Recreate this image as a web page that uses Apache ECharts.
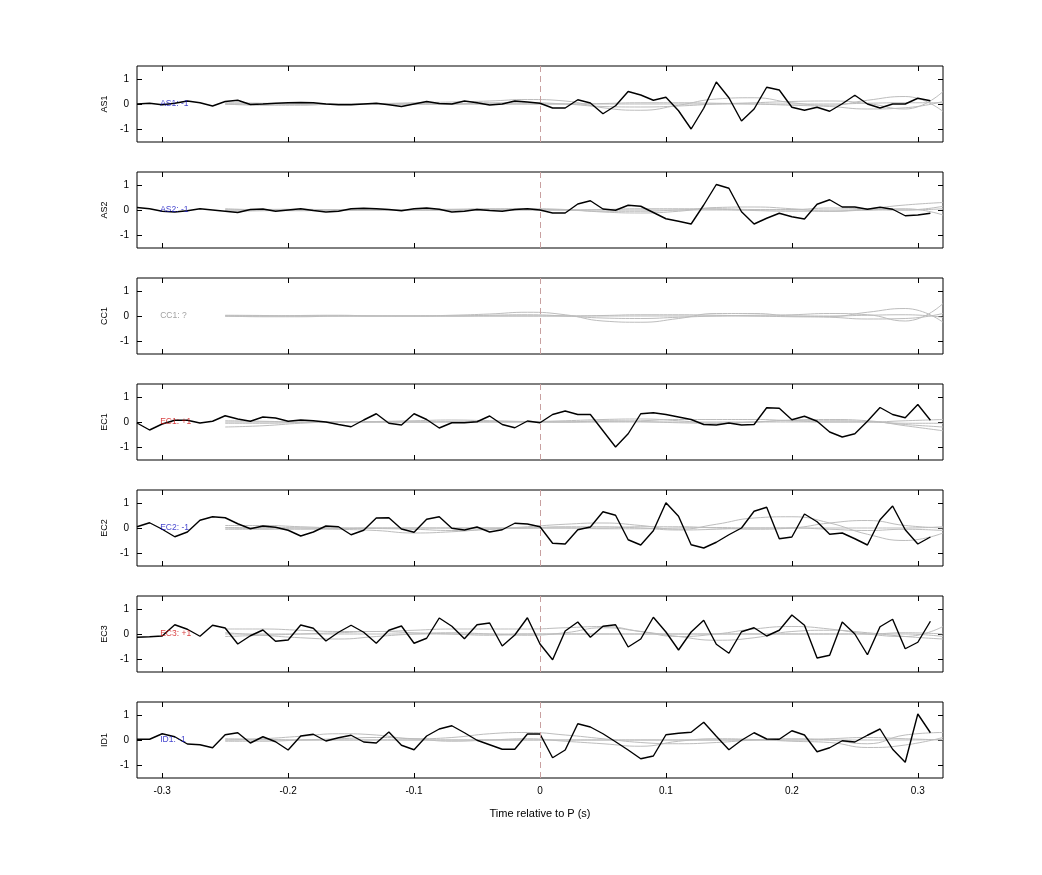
<!DOCTYPE html>
<html><head><meta charset="utf-8">
<script src="https://cdn.jsdelivr.net/npm/echarts@6/dist/echarts.min.js"></script>
<style>html,body{margin:0;padding:0;background:#fff}#c{width:1042px;height:875px}</style>
</head><body><div id="c"></div>
<script>
const stations = ['AS1','AS2','CC1','EC1','EC2','EC3','ID1'];
const labelText = ['AS1: -1','AS2: -1','CC1: ?','EC1: +1','EC2: -1','EC3: +1','ID1: -1'];
const labelColor = ['#1010c0','#1010c0','#888888','#d01010','#1010c0','#d01010','#1010c0'];
const xTicks = [-0.3,-0.2,-0.1,0,0.1,0.2,0.3];
const yTicks = [-1,0,1];
// black traces: time step 0.01 from -0.32 to 0.31
const tBlack = [-0.32,-0.31,-0.3,-0.29,-0.28,-0.27,-0.26,-0.25,-0.24,-0.23,-0.22,-0.21,-0.2,-0.19,-0.18,-0.17,-0.16,-0.15,-0.14,-0.13,-0.12,-0.11,-0.1,-0.09,-0.08,-0.07,-0.06,-0.05,-0.04,-0.03,-0.02,-0.01,0,0.01,0.02,0.03,0.04,0.05,0.06,0.07,0.08,0.09,0.1,0.11,0.12,0.13,0.14,0.15,0.16,0.17,0.18,0.19,0.2,0.21,0.22,0.23,0.24,0.25,0.26,0.27,0.28,0.29,0.3,0.31];
const AS1 = [0,0.03,-0.03,0.03,0.12,0.05,-0.08,0.1,0.15,-0.02,0,0.03,0.05,0.06,0.05,0,-0.03,-0.03,0,0.03,-0.03,-0.1,0,0.1,0.02,0,0.12,0.05,-0.04,0,0.12,0.08,0.03,-0.16,-0.16,0.17,0.04,-0.39,-0.07,0.5,0.36,0.15,0.27,-0.27,-1.0,-0.17,0.88,0.25,-0.68,-0.2,0.67,0.56,-0.13,-0.25,-0.13,-0.29,0.01,0.35,0,-0.16,0,0,0.23,0.13];
const AS2 = [0.1,0.05,-0.05,-0.08,-0.03,0.05,0,-0.05,-0.1,0.02,0.04,-0.05,0,0.05,-0.02,-0.08,-0.05,0.05,0.07,0.05,0.02,-0.03,0.05,0.08,0.03,-0.08,-0.05,0.02,-0.02,-0.05,0.02,0.05,0,-0.12,-0.12,0.24,0.37,0.04,-0.01,0.19,0.15,-0.1,-0.35,-0.45,-0.56,0.2,1.02,0.87,-0.07,-0.56,-0.33,-0.13,-0.27,-0.36,0.23,0.41,0.12,0.12,0.03,0.11,0.03,-0.23,-0.2,-0.13];
const CC1 = [];
const EC1 = [-0.04,-0.32,-0.08,0.07,0.07,-0.04,0.03,0.25,0.12,0.03,0.2,0.16,0.03,0.08,0.05,0,-0.1,-0.19,0.08,0.33,-0.05,-0.12,0.33,0.1,-0.24,-0.03,-0.03,0.01,0.24,-0.1,-0.23,0.04,-0.03,0.3,0.44,0.3,0.3,-0.35,-1.0,-0.47,0.33,0.37,0.3,0.2,0.1,-0.1,-0.12,-0.04,-0.12,-0.1,0.57,0.55,0.09,0.23,0.03,-0.4,-0.6,-0.47,0.03,0.58,0.3,0.17,0.7,0.07];
const EC2 = [0.05,0.21,-0.05,-0.35,-0.16,0.31,0.45,0.41,0.17,-0.03,0.08,0.03,-0.09,-0.32,-0.16,0.08,0.05,-0.27,-0.09,0.4,0.41,-0.04,-0.17,0.35,0.45,-0.01,-0.08,0.04,-0.16,-0.07,0.19,0.16,0.05,-0.61,-0.64,-0.07,0.04,0.65,0.51,-0.47,-0.68,-0.11,1.01,0.47,-0.67,-0.8,-0.57,-0.27,0,0.67,0.83,-0.43,-0.36,0.56,0.25,-0.25,-0.2,-0.43,-0.68,0.33,0.88,-0.07,-0.64,-0.36];
const EC3 = [-0.13,-0.11,-0.08,0.37,0.19,-0.09,0.35,0.24,-0.4,-0.07,0.16,-0.29,-0.24,0.36,0.23,-0.28,0.07,0.35,0.07,-0.37,0.15,0.32,-0.37,-0.17,0.64,0.31,-0.19,0.37,0.44,-0.48,-0.04,0.65,-0.4,-1.03,0.12,0.48,-0.13,0.31,0.37,-0.52,-0.2,0.67,0.08,-0.64,0.08,0.55,-0.41,-0.77,0.09,0.25,-0.08,0.15,0.76,0.35,-0.96,-0.85,0.48,0,-0.83,0.29,0.59,-0.59,-0.33,0.51];
const ID1 = [0.03,0.03,0.25,0.13,-0.16,-0.19,-0.31,0.21,0.29,-0.12,0.13,-0.07,-0.4,0.16,0.23,-0.04,0.09,0.19,-0.08,-0.12,0.32,-0.21,-0.39,0.16,0.44,0.57,0.29,-0.01,-0.19,-0.37,-0.37,0.24,0.24,-0.71,-0.4,0.65,0.52,0.25,-0.07,-0.4,-0.75,-0.64,0.21,0.27,0.31,0.71,0.15,-0.39,-0.01,0.29,0.04,0.03,0.37,0.2,-0.47,-0.31,-0.03,-0.08,0.19,0.44,-0.37,-0.89,1.04,0.29];
const blackData = [AS1,AS2,CC1,EC1,EC2,EC3,ID1];
// gray reference traces: time step 0.03 from -0.25 to 0.32
const tGray = [-0.25,-0.22,-0.19,-0.16,-0.13,-0.1,-0.07,-0.04,-0.01,0.02,0.05,0.08,0.11,0.14,0.17,0.2,0.23,0.26,0.29,0.32];
const grayAS1 = [
 [0,0,0,0.02,0.02,0.05,0.08,0.12,0.18,0.12,-0.15,-0.25,-0.05,0.2,0.25,0.05,-0.05,0.15,0.3,-0.3],
 [0,-0.05,-0.05,0,0,0,0,0.05,0.05,0,-0.1,-0.12,-0.08,0,0.05,0.1,0.12,0.02,-0.2,0.5],
 [0.05,0.03,0,0,0,0,0,0,0,0,0.02,0.05,0.05,0.03,0,-0.05,-0.1,-0.2,-0.15,0.1],
 [0,0,0,0,0,0,0,0,0,0,0,0,0,0,0,0,0,0.03,0.05,0.05]];
const grayAS2 = [
 [0,0.02,0.03,0,0,0.02,0.03,0.05,0.05,0.02,-0.08,-0.12,-0.05,0.1,0.12,0.05,-0.05,0.05,0.2,0.3],
 [0.05,0,-0.03,0,0,0,0,0.03,0.03,0,-0.05,-0.05,0,0.05,0.02,0.02,0.08,0.05,0,0.15],
 [-0.05,-0.03,0,0,0.02,0,0,0,0,0,0.02,0.05,0.05,0.03,-0.02,-0.05,-0.05,0,0.05,-0.2],
 [0,0,0,0,0,0,0,0,0,0,0,0,0,0,0,0,0,0,0,0.05]];
const grayCC1 = [
 [0,0,0.02,0.03,0,0,0.03,0.08,0.15,0.05,-0.2,-0.25,-0.1,0.1,0.1,0,-0.02,0.15,0.3,-0.25],
 [0,-0.03,-0.03,0,0,0,0,0.03,0.05,0,-0.08,-0.1,-0.05,0,0.03,0.05,0.1,0.05,-0.2,0.5],
 [0.03,0.02,0,0,0,0,0,0,0,0,0.02,0.05,0.05,0.03,0,-0.03,-0.05,-0.12,-0.1,0.1],
 [0,0,0,0,0,0,0,0,0,0,0,0,0,0,0,0,0,0.03,0.05,-0.05]];
const grayEC1 = [
 [-0.05,-0.05,-0.02,0,0.02,0.05,0.08,0.05,0.02,0.05,0.1,0.12,0.05,-0.05,0,0.05,0.05,0.02,-0.1,-0.2],
 [-0.2,-0.15,-0.05,0,0,0,0.02,0.03,0.02,0,0.02,0.05,0.1,0.1,0.1,0.05,0,0,-0.05,-0.05],
 [0.05,0.03,0,0,0,0,0,0,0,0,0.05,0.02,-0.03,-0.05,0,0.08,0.1,0.05,-0.15,-0.35],
 [0,0,0,0,0,0,0,0,0,0,0,0,0,0,0,0,0,0,0.05,0.1]];
const grayEC2 = [
 [0.1,0.1,0.05,0,-0.02,-0.05,-0.1,-0.05,0.05,0.15,0.2,0.1,-0.05,0.15,0.4,0.45,0.2,-0.25,-0.5,-0.2],
 [0,-0.03,-0.05,-0.03,0,0,0,0,0,0,0,0.05,0.05,0,-0.05,0,0.2,0.3,0.1,0],
 [0.02,0.02,0,-0.05,-0.1,-0.2,-0.15,-0.05,0,0.05,0.05,0,-0.08,-0.05,0,0,-0.05,-0.1,-0.05,-0.1],
 [-0.05,-0.05,0,0,0,0,0,0,0,0,-0.03,-0.03,0,0.02,0,0,0,0,0,0.05]];
const grayEC3 = [
 [0.2,0.2,0.15,0.1,0.1,0.15,0.2,0.2,0.2,0.25,0.3,0.1,-0.1,0,0.2,0.3,0.2,0,-0.1,0.3],
 [0.05,-0.05,-0.15,-0.2,-0.1,0,0.05,0,-0.05,0.05,0.25,0.1,-0.1,-0.25,-0.15,0.1,0.15,0.05,-0.1,-0.2],
 [-0.1,-0.05,0,0.05,0.1,0.05,0,-0.05,0,0,0,0,0,0,0,0,0,0,0,-0.1],
 [0,0,0,0,0,0,0,0,0,0,0,0,0,0,0,0,0,0,0.05,0]];
const grayID1 = [
 [0,0.05,0.15,0.25,0.2,0.05,0.1,0.25,0.3,0.2,0.05,-0.1,-0.15,-0.1,0,0.05,0,-0.15,0.2,0.3],
 [-0.05,-0.05,0,0.05,0.1,0.05,-0.05,0,0.05,-0.05,-0.15,-0.25,-0.05,0.05,0.02,-0.05,-0.1,-0.3,-0.2,0.1],
 [0.05,0.03,0,0,0,0,0,0,0,0,0,0,0,0,0,0,0.05,0.1,0.05,0],
 [0,0,0,0,0,0,0,0,0,0,0,0,0,0,0,0,0,0,0,0.02]];
const grayData = [grayAS1,grayAS2,grayCC1,grayEC1,grayEC2,grayEC3,grayID1];

const tops = [66,172,278,384,490,596,702];
const H = 76;
const grids=[], xAxes=[], yAxes=[], series=[];
const font = 'Liberation Sans, Arial, sans-serif';
tops.forEach((top,i)=>{
  grids.push({left:137, right:99, top:top, height:H, show:true, borderColor:'#000', borderWidth:1, backgroundColor:'#fff'});
  const last = i===tops.length-1;
  const xBase = {type:'value', gridIndex:i, min:-0.32, max:0.32, splitLine:{show:false},
    axisLine:{show:false, onZero:false}, axisTick:{show:true, inside:true, length:5, lineStyle:{color:'#000'}, customValues:xTicks}};
  xAxes.push(Object.assign({}, xBase, {position:'bottom',
    axisLabel:{show:last, customValues:xTicks, color:'#000', fontSize:10, fontFamily:font, margin:8, formatter:v=>String(v)},
    name: last ? 'Time relative to P (s)' : '', nameLocation:'middle', nameGap:30, nameTextStyle:{color:'#000', fontSize:11, fontFamily:font}}));
  xAxes.push(Object.assign({}, xBase, {position:'top', axisLabel:{show:false}}));
  const yBase = {type:'value', gridIndex:i, min:-1.52, max:1.52, splitLine:{show:false}, axisLine:{show:false, onZero:false},
    axisTick:{show:true, inside:true, length:5, lineStyle:{color:'#000'}, customValues:yTicks}};
  yAxes.push(Object.assign({}, yBase, {position:'left',
    axisLabel:{customValues:yTicks, color:'#000', fontSize:10, fontFamily:font, margin:8},
    name: stations[i], nameLocation:'middle', nameGap:28, nameRotate:90, nameTextStyle:{color:'#000', fontSize:9, fontFamily:font}}));
  yAxes.push(Object.assign({}, yBase, {position:'right', axisLabel:{show:false}}));
  grayData[i].forEach(g=>{
    series.push({type:'line', xAxisIndex:2*i, yAxisIndex:2*i, data:tGray.map((t,k)=>[t,g[k]]), smooth:0.5,
      showSymbol:false, lineStyle:{color:'#bdbdbd', width:1}, silent:true, z:2});
  });
  series.push({type:'line', xAxisIndex:2*i, yAxisIndex:2*i, data:blackData[i].map((v,k)=>[tBlack[k],v]),
    showSymbol:false, lineStyle:{color:'#000', width:1.4}, silent:true, z:4,
    markLine:{silent:true, symbol:'none', label:{show:false}, lineStyle:{color:'#c8a0a0', type:[6,4], width:1}, data:[{xAxis:0}]}});
  series.push({type:'scatter', xAxisIndex:2*i, yAxisIndex:2*i, data:[[-0.302,0]], symbolSize:1,
    itemStyle:{color:'rgba(0,0,0,0)'}, z:5,
    label:{show:true, position:'right', distance:0, formatter:labelText[i], color:labelColor[i], fontSize:8.5, fontFamily:font}});
});
const chart = echarts.init(document.getElementById('c'));
chart.setOption({animation:false, backgroundColor:'#fff', grid:grids, xAxis:xAxes, yAxis:yAxes, series:series});
</script></body></html>
